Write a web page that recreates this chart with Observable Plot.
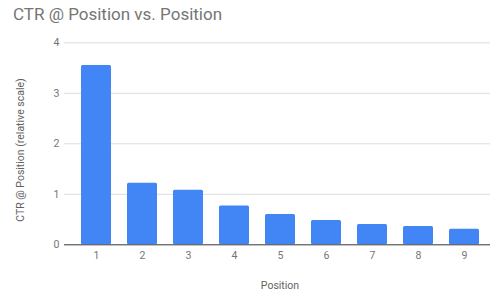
<!DOCTYPE html>
<html>
<head>
<meta charset="utf-8">
<script src="https://cdn.jsdelivr.net/npm/d3@7"></script>
<script src="https://cdn.jsdelivr.net/npm/@observablehq/plot@0.6"></script>
<style>
  html, body { margin: 0; padding: 0; background: #fff; }
  #wrap { position: relative; width: 491px; height: 290px; font-family: Roboto, sans-serif; }
  #title { position: absolute; left: 13px; top: 4px; font-size: 17px; color: #757575; white-space: nowrap; }
  #ytitle { position: absolute; left: 19.5px; top: 149.5px; transform: translate(-50%, -50%) rotate(-90deg); font-size: 10.5px; color: #616161; white-space: nowrap; }
  #xtitle { position: absolute; left: 280px; top: 285px; transform: translate(-50%, -50%); font-size: 10.5px; color: #616161; white-space: nowrap; }
  svg { position: absolute; left: 0; top: 0; }
</style>
</head>
<body>
<div id="wrap">
  <div id="chart"></div>
  <div id="title">CTR @ Position vs. Position</div>
  <div id="ytitle">CTR @ Position (relative scale)</div>
  <div id="xtitle">Position</div>
</div>
<script>
const positions = ["1", "2", "3", "4", "5", "6", "7", "8", "9"];
const ctrValues = [3.55, 1.22, 1.08, 0.77, 0.60, 0.48, 0.40, 0.36, 0.31];
const yTicks = [0, 1, 2, 3, 4];

const data = positions.map((p, i) => ({position: p, ctr: ctrValues[i]}));

const chart = Plot.plot({
  width: 491,
  height: 290,
  marginLeft: 64,
  marginRight: 1,
  marginTop: 42.3,
  marginBottom: 45.7,
  style: { fontFamily: "Roboto, sans-serif", fontSize: "10.5px", background: "transparent" },
  x: { domain: positions, range: [72.9, 487.2], paddingInner: 0.355, paddingOuter: 0.1775 },
  y: { domain: [0, 4] },
  marks: [
    Plot.gridY(yTicks, { stroke: "#dcdcdc", strokeOpacity: 1, strokeWidth: 1 }),
    Plot.barY(data, { x: "position", y: "ctr", fill: "#4285F4", rx: 1.5 }),
    Plot.ruleY([0], { stroke: "#444444", strokeWidth: 1 }),
    Plot.axisY(yTicks, { tickSize: 0, tickPadding: 5, label: null, tickFormat: d => String(d), fill: "#757575", fontSize: 10.5 }),
    Plot.axisX({ tickSize: 0, tickPadding: 6.5, label: null, fill: "#757575", fontSize: 10.5 })
  ]
});
document.getElementById("chart").appendChild(chart);
</script>
</body>
</html>
